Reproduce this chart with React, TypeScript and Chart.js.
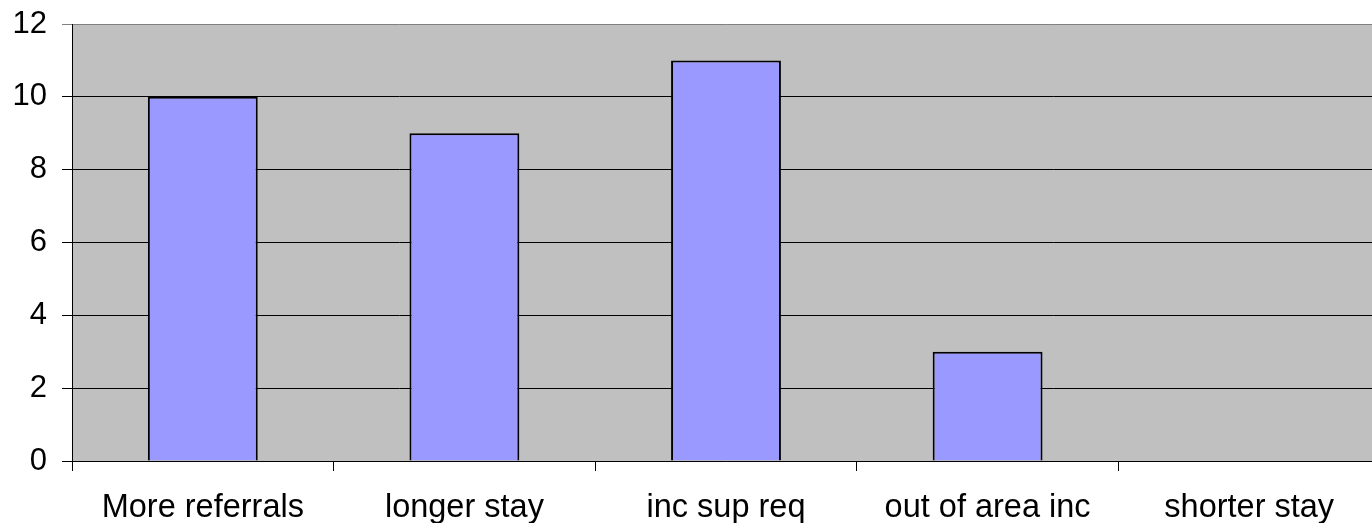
import React, { useEffect, useRef } from "react";
import { Chart, registerables } from "chart.js";

Chart.register(...registerables);

const categories = ["More referrals", "longer stay", "inc sup req", "out of area inc", "shorter stay"];
const values = [10, 9, 11, 3, 0];
const yMin = 0;
const yMax = 12;
const yStep = 2;

const FONT = "'Liberation Sans', Arial, sans-serif";

const plotBg = {
  id: "plotBg",
  beforeDraw(chart: any) {
    const { ctx, chartArea } = chart;
    if (!chartArea) return;
    ctx.save();
    ctx.fillStyle = "#C0C0C0";
    ctx.fillRect(chartArea.left, chartArea.top, chartArea.right - chartArea.left, chartArea.bottom - chartArea.top);
    ctx.restore();
  },
};

export default function App() {
  const ref = useRef<HTMLCanvasElement | null>(null);
  useEffect(() => {
    if (!ref.current) return;
    const chart = new Chart(ref.current, {
      type: "bar",
      data: {
        labels: categories,
        datasets: [
          {
            data: values,
            backgroundColor: "#9999FF",
            borderColor: "#000000",
            borderWidth: 2,
            barPercentage: 0.42,
            categoryPercentage: 1,
          },
        ],
      },
      options: {
        responsive: false,
        animation: false,
        devicePixelRatio: 1,
        layout: { padding: { top: 24, left: 0, right: 0, bottom: 0 } },
        plugins: { legend: { display: false }, tooltip: { enabled: false }, title: { display: false } },
        scales: {
          x: {
            offset: true,
            grid: {
              offset: true,
              drawOnChartArea: false,
              drawTicks: true,
              tickLength: 10,
              color: "#000000",
              lineWidth: 1,
            },
            border: { display: true, color: "#000000", width: 1 },
            ticks: {
              color: "#000000",
              font: { family: FONT, size: 32.5 },
              padding: 18,
              maxRotation: 0,
              autoSkip: false,
            },
            afterFit(scale: any) {
              scale.height = 62;
              scale.paddingLeft = 0;
              scale.paddingRight = 0;
            },
          },
          y: {
            min: yMin,
            max: yMax,
            grid: {
              color: (c: any) => (c.tick && c.tick.value === yMax ? "#808080" : "#000000"),
              tickLength: 10,
              lineWidth: 1,
            },
            border: { display: true, color: "#000000", width: 1 },
            ticks: {
              stepSize: yStep,
              color: "#000000",
              font: { family: FONT, size: 31 },
              padding: 15,
            },
            afterFit(scale: any) {
              scale.width = 72;
              scale.paddingTop = 0;
              scale.paddingBottom = 0;
            },
          },
        },
      },
      plugins: [plotBg],
    });
    return () => chart.destroy();
  }, []);
  return (
    <div style={{ position: "fixed", left: 0, top: 0, width: 1372, height: 523, overflow: "hidden", background: "#fff" }}>
      <canvas ref={ref} width={1380} height={523} style={{ display: "block" }} />
    </div>
  );
}
